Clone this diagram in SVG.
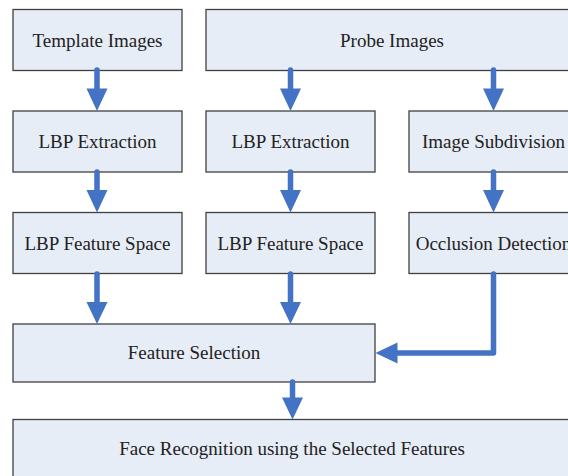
<svg xmlns="http://www.w3.org/2000/svg" width="568" height="476" viewBox="0 0 568 476">
<style>
.box{fill:#e7edf6;stroke:#404040;stroke-width:1.3}
.t{font-family:'Liberation Serif','Times New Roman','DejaVu Serif',serif;font-size:19px;fill:#222;text-anchor:middle}
.sh{stroke:#4472c4;stroke-width:5.5;fill:none;stroke-linecap:round;stroke-linejoin:round}
.hd{fill:#4472c4}
</style>
<rect width="568" height="476" fill="#fff"/>
<g id="template"><rect class="box" x="13" y="9.5" width="169" height="61"/><text class="t" x="97.5" y="46.5">Template Images</text></g>
<g id="probe"><rect class="box" x="206" y="9.5" width="372" height="61"/><text class="t" x="392" y="46.5">Probe Images</text></g>
<g id="lbp1"><rect class="box" x="13" y="111" width="169" height="61"/><text class="t" x="97.5" y="148">LBP Extraction</text></g>
<g id="lbp2"><rect class="box" x="206" y="111" width="169" height="61"/><text class="t" x="290.5" y="148">LBP Extraction</text></g>
<g id="subdiv"><rect class="box" x="409" y="111" width="169" height="61"/><text class="t" x="493.5" y="148">Image Subdivision</text></g>
<g id="fs1"><rect class="box" x="13" y="212.5" width="169" height="61"/><text class="t" x="97.5" y="249.5">LBP Feature Space</text></g>
<g id="fs2"><rect class="box" x="206" y="212.5" width="169" height="61"/><text class="t" x="290.5" y="249.5">LBP Feature Space</text></g>
<g id="occl"><rect class="box" x="409" y="212.5" width="169" height="61"/><text class="t" x="493.5" y="249.5">Occlusion Detection</text></g>
<g id="select"><rect class="box" x="13" y="324" width="362" height="58"/><text class="t" x="194" y="359">Feature Selection</text></g>
<g id="recog"><rect class="box" x="13" y="419.5" width="565" height="62"/><text class="t" x="292" y="455">Face Recognition using the Selected Features</text></g>
<g id="connectors">
<path class="sh" d="M97 70V90M290.5 70V90M493.5 70V90M97 172V191M290.5 172V191M493.5 172V191M97 274V303M290.5 274V303M493.5 274V353H396M292.5 382V399"/>
<path class="hd" d="M86.5 88.5H107.5L97 111ZM280 88.5H301L290.5 111ZM483 88.5H504L493.5 111ZM86.5 190H107.5L97 212.5ZM280 190H301L290.5 212.5ZM483 190H504L493.5 212.5ZM86.5 302H107.5L97 324ZM280 302H301L290.5 324ZM397.5 342.5V363.5L375.5 353ZM282 397.5H303L292.5 419.5Z"/>
</g>
</svg>
